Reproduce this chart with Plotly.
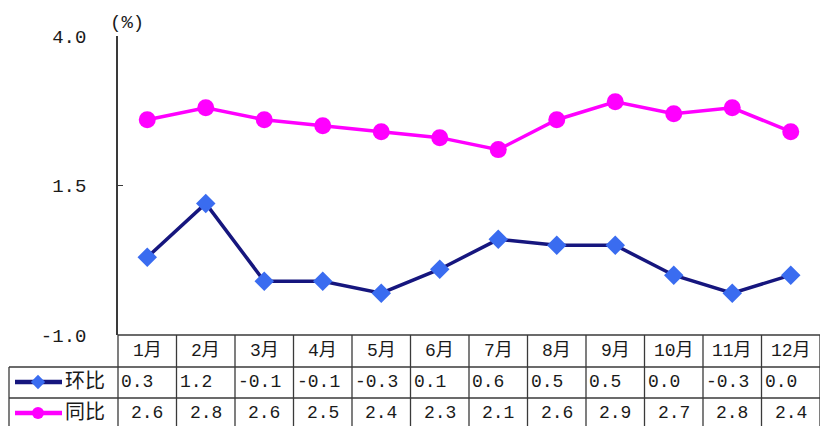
import plotly.graph_objects as go

months = ["1月", "2月", "3月", "4月", "5月", "6月", "7月", "8月", "9月", "10月", "11月", "12月"]
mom = [0.3, 1.2, -0.1, -0.1, -0.3, 0.1, 0.6, 0.5, 0.5, 0.0, -0.3, 0.0]
yoy = [2.6, 2.8, 2.6, 2.5, 2.4, 2.3, 2.1, 2.6, 2.9, 2.7, 2.8, 2.4]
series_names = ["环比", "同比"]
y_ticks = [-1.0, 1.5, 4.0]

W, H = 822, 426
def py(p):
    return (H - p) / H
def px(p):
    return p / W

NAVY = "#16167e"
BLUE = "#3a6cf0"
MAG = "#ff00ff"
GRID = "#3a3a3a"
TXT = "#1a1a1a"
FONT = "Liberation Mono, Noto Sans CJK SC"

xs = list(range(len(months)))

fig = go.Figure()
fig.add_trace(go.Scatter(x=xs, y=mom, mode="lines+markers", name=series_names[0],
                         line=dict(color=NAVY, width=3.5),
                         marker=dict(symbol="diamond", size=15, color=BLUE),
                         showlegend=False, hoverinfo="skip"))
fig.add_trace(go.Scatter(x=xs, y=yoy, mode="lines+markers", name=series_names[1],
                         line=dict(color=MAG, width=3.5),
                         marker=dict(symbol="circle", size=17, color=MAG),
                         showlegend=False, hoverinfo="skip"))

# legend samples inside the table's first column (pixel-coordinate helper axes)
for (name, lc, mc, sym, msz, yrow) in [(series_names[0], NAVY, BLUE, "diamond", 11, 382),
                                      (series_names[1], MAG, MAG, "circle", 12, 413)]:
    fig.add_trace(go.Scatter(x=[15, 62], y=[yrow, yrow], mode="lines", xaxis="x2", yaxis="y2",
                             line=dict(color=lc, width=4.5), showlegend=False, hoverinfo="skip"))
    fig.add_trace(go.Scatter(x=[38], y=[yrow], mode="markers", xaxis="x2", yaxis="y2",
                             marker=dict(symbol=sym, size=msz, color=mc),
                             showlegend=False, hoverinfo="skip"))

shapes = []
shapes.append(dict(type="line", xref="paper", yref="paper", x0=px(118), x1=px(820), y0=py(335), y1=py(335),
                   line=dict(color=GRID, width=1.3)))
for yy in [367, 398]:
    shapes.append(dict(type="line", xref="paper", yref="paper", x0=px(9), x1=px(820), y0=py(yy), y1=py(yy),
                       line=dict(color=GRID, width=1.3)))
shapes.append(dict(type="line", xref="paper", yref="paper", x0=px(118), x1=px(118), y0=py(335), y1=0,
                   line=dict(color=GRID, width=1.3)))
shapes.append(dict(type="line", xref="paper", yref="paper", x0=px(9), x1=px(9), y0=py(367), y1=0,
                   line=dict(color=GRID, width=1.3)))
for i in xs:
    shapes.append(dict(type="line", xref="x", yref="paper", x0=i + 0.5, x1=i + 0.5, y0=py(335), y1=0,
                       line=dict(color=GRID, width=1.3)))

def fmtv(v):
    return f"{v:.1f}"

annotations = []
annotations.append(dict(text="(%)", xref="paper", yref="paper", x=px(127), y=py(23), showarrow=False,
                        xanchor="center", yanchor="middle", font=dict(family=FONT, size=19, color=TXT)))
for i, m in enumerate(months):
    annotations.append(dict(text=m, xref="x", yref="paper", x=i, y=py(351), showarrow=False,
                            xanchor="center", yanchor="middle", font=dict(family=FONT, size=18, color=TXT)))
    annotations.append(dict(text=fmtv(mom[i]), xref="x", yref="paper", x=i - 0.5, y=py(382), xshift=1,
                            showarrow=False, xanchor="left", yanchor="middle",
                            font=dict(family=FONT, size=18, color=TXT)))
    annotations.append(dict(text=fmtv(yoy[i]), xref="x", yref="paper", x=i, y=py(413),
                            showarrow=False, xanchor="center", yanchor="middle",
                            font=dict(family=FONT, size=18, color=TXT)))
for name, yrow in [(series_names[0], 382), (series_names[1], 413)]:
    annotations.append(dict(text=name, xref="paper", yref="paper", x=px(63), y=py(yrow), showarrow=False,
                            xanchor="left", yanchor="middle", font=dict(family=FONT, size=20, color=TXT)))

fig.update_layout(
    width=W, height=H,
    margin=dict(l=0, r=0, t=0, b=0, pad=0, autoexpand=False),
    paper_bgcolor="white", plot_bgcolor="rgba(0,0,0,0)",
    xaxis=dict(domain=[px(118), px(820)], range=[-0.5, 11.5], visible=False, fixedrange=True),
    yaxis=dict(domain=[py(335), py(36)], range=[-1, 4], tickvals=y_ticks,
               ticktext=[fmtv(t) for t in y_ticks], ticks="inside", ticklen=5, tickcolor=GRID,
               showline=True, linecolor=GRID, linewidth=1.5, showgrid=False, zeroline=False,
               ticklabelstandoff=26, tickfont=dict(family=FONT, size=19, color=TXT), fixedrange=True,
               automargin=False),
    xaxis2=dict(domain=[0, 1], range=[0, W], visible=False, anchor="y2", fixedrange=True),
    yaxis2=dict(domain=[0, 1], range=[H, 0], visible=False, anchor="x2", fixedrange=True),
    shapes=shapes,
    annotations=annotations,
)

fig.write_html("out.html", config={"displayModeBar": False},
               post_script="document.body.style.margin='0px';document.body.style.overflow='hidden';")
